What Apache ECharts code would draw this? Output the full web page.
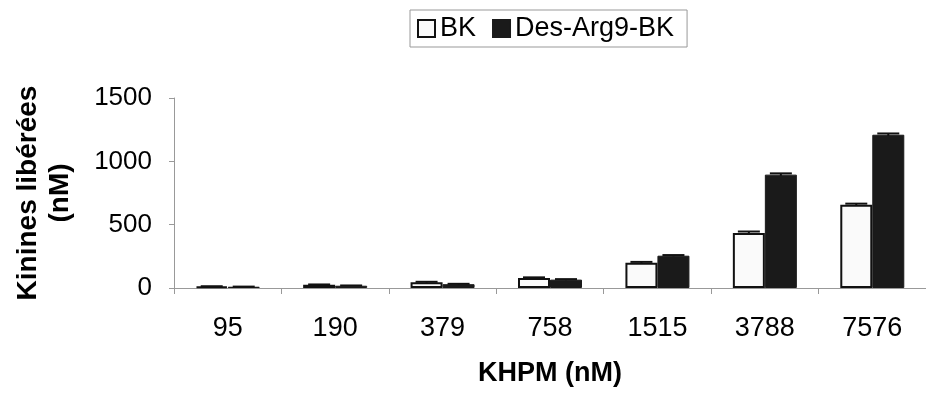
<!DOCTYPE html>
<html>
<head>
<meta charset="utf-8">
<script src="https://cdn.jsdelivr.net/npm/echarts@6/dist/echarts.min.js"></script>
<style>
  html, body { margin: 0; padding: 0; background: #fff; }
  #chart { width: 926px; height: 394px; }
</style>
</head>
<body>
<div id="chart"></div>
<script>
// KHPM concentrations (nM)
const categories = ['95', '190', '379', '758', '1515', '3788', '7576'];
// Kinines libérées (nM)
const bkValues = [12, 25, 45, 79, 200, 434, 658];
const desArgValues = [10, 18, 30, 66, 255, 895, 1210];
// Error bar half-widths
const bkErrors = [2, 3, 4, 5, 6, 12, 8];
const desArgErrors = [1, 2, 3, 4, 5, 10, 10];
const yTicks = [0, 500, 1000, 1500];

const seriesNames = ['BK', 'Des-Arg9-BK'];
const BAR_W = 32;

const chart = echarts.init(document.getElementById('chart'), null, { renderer: 'canvas' });

function errorSeries(values, errors, side) {
  return {
    type: 'custom',
    silent: true,
    z: 5,
    data: values.map((v, i) => [i, v, errors[i]]),
    renderItem: function (params, api) {
      const i = api.value(0);
      const v = api.value(1);
      const e = api.value(2);
      const top = api.coord([i, v + e]);
      const bot = api.coord([i, v - e]);
      const x = top[0] + side * BAR_W / 2;
      const half = 11;
      const style = { stroke: '#111', lineWidth: 2 };
      return {
        type: 'group',
        children: [
          { type: 'line', shape: { x1: x, y1: top[1], x2: x, y2: bot[1] }, style: style },
          { type: 'line', shape: { x1: x - half, y1: top[1], x2: x + half, y2: top[1] }, style: style }
        ]
      };
    }
  };
}

const option = {
  animation: false,
  backgroundColor: '#fff',
  textStyle: { fontFamily: 'Liberation Sans, Arial, sans-serif', color: '#000' },
  legend: {
    data: seriesNames,
    left: 410,
    top: 10,
    orient: 'horizontal',
    padding: [5, 13, 5, 7],
    itemGap: 16,
    itemWidth: 17,
    itemHeight: 17,
    icon: 'rect',
    borderColor: '#999',
    borderWidth: 1,
    textStyle: { fontSize: 27, color: '#000' }
  },
  grid: { left: 174, right: 0, top: 98, bottom: 106, containLabel: false },
  xAxis: {
    type: 'category',
    data: categories,
    boundaryGap: true,
    name: 'KHPM (nM)',
    nameLocation: 'middle',
    nameGap: 72,
    nameTextStyle: { fontSize: 27, fontWeight: 'bold', color: '#000' },
    axisLine: { lineStyle: { color: '#999', width: 1 } },
    axisTick: { show: true, length: 6, lineStyle: { color: '#999' } },
    axisLabel: { fontSize: 27, color: '#000', margin: 27 },
    splitLine: { show: false }
  },
  yAxis: {
    type: 'value',
    min: yTicks[0],
    max: yTicks[yTicks.length - 1],
    interval: 500,
    name: 'Kinines libérées\n(nM)',
    nameLocation: 'middle',
    nameRotate: 90,
    nameGap: 98,
    nameTextStyle: { fontSize: 28, fontWeight: 'bold', color: '#000', lineHeight: 32, align: 'center' },
    axisLine: { show: true, lineStyle: { color: '#999', width: 1 } },
    axisTick: { show: true, length: 5, lineStyle: { color: '#999' } },
    axisLabel: { fontSize: 26, color: '#000', margin: 22, formatter: v => String(v) },
    splitLine: { show: false }
  },
  series: [
    {
      name: seriesNames[0],
      type: 'bar',
      data: bkValues,
      barWidth: BAR_W,
      barGap: '0%',
      itemStyle: { color: '#fafafa', borderColor: '#111', borderWidth: 2 }
    },
    {
      name: seriesNames[1],
      type: 'bar',
      data: desArgValues,
      barWidth: BAR_W,
      barGap: '0%',
      itemStyle: { color: '#1a1a1a', borderColor: '#1a1a1a', borderWidth: 1 }
    },
    errorSeries(bkValues, bkErrors, -1),
    errorSeries(desArgValues, desArgErrors, 1)
  ]
};

chart.setOption(option);
</script>
</body>
</html>
